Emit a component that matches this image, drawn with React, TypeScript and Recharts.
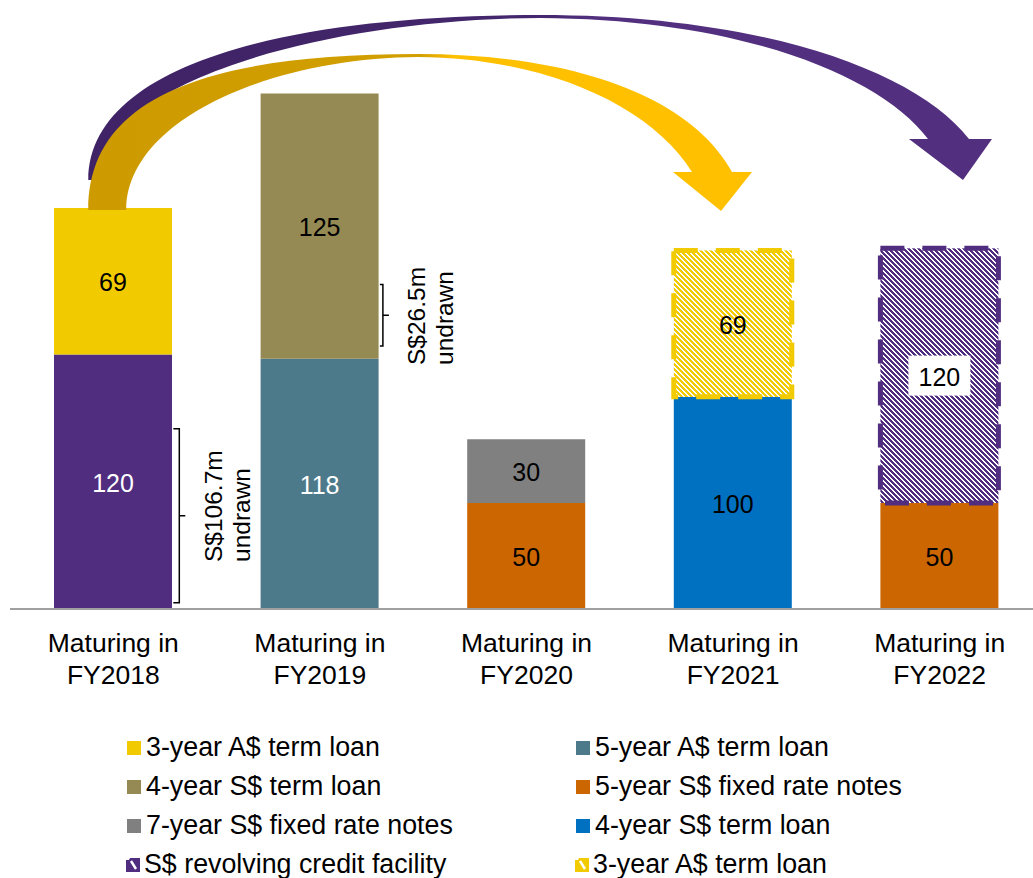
import React from "react";
import { BarChart, Bar, XAxis, YAxis, LabelList } from "recharts";

const categories = ["FY2018", "FY2019", "FY2020", "FY2021", "FY2022"];

// stacked from bottom to top
const revolver = [120, null, null, null, null];
const aud5 = [null, 118, null, null, null];
const fixed5 = [null, null, 50, null, 50];
const sgd4New = [null, null, null, 100, null];
const aud3 = [69, null, null, null, null];
const sgd4 = [null, 125, null, null, null];
const fixed7 = [null, null, 30, null, null];
const aud3Refi = [null, null, null, 69, null];
const revolverRefi = [null, null, null, null, 120];

const undrawnNotes = [
  { lines: ["S$106.7m", "undrawn"], cat: 0, from: 3, to: 85 },
  { lines: ["S$26.5m", "undrawn"], cat: 1, from: 124, to: 153 },
];

const C = {
  purple: "#512D7F",
  yellow: "#F2CA00",
  teal: "#4D7A8A",
  olive: "#958A54",
  orange: "#CC6600",
  gray: "#808080",
  blue: "#0070C0",
};

const FONT = "'Liberation Sans', Arial, sans-serif";

// layout
const CHART_W = 1043;
const CHART_H = 700;
const M_LEFT = 10;
const M_TOP = 15;
const AXIS_H = 91;
const PLOT_BOTTOM = CHART_H - AXIS_H;
const Y_MAX = 280;
const BAR_W = 118;
const BAND = (CHART_W - M_LEFT) / categories.length;

const xc = (i: number) => M_LEFT + BAND * (i + 0.5);
const yOf = (v: number) => PLOT_BOTTOM - (v / Y_MAX) * (PLOT_BOTTOM - M_TOP);

const data = categories.map((c, i) => ({
  year: c,
  revolver: revolver[i],
  aud5: aud5[i],
  fixed5: fixed5[i],
  sgd4New: sgd4New[i],
  aud3: aud3[i],
  sgd4: sgd4[i],
  fixed7: fixed7[i],
  aud3Refi: aud3Refi[i],
  revolverRefi: revolverRefi[i],
}));

const legendLeft = [
  { label: "3-year A$ term loan", color: C.yellow },
  { label: "4-year S$ term loan", color: C.olive },
  { label: "7-year S$ fixed rate notes", color: C.gray },
  { label: "S$ revolving credit facility", color: C.purple, hatch: true },
];
const legendRight = [
  { label: "5-year A$ term loan", color: C.teal },
  { label: "5-year S$ fixed rate notes", color: C.orange },
  { label: "4-year S$ term loan", color: C.blue },
  { label: "3-year A$ term loan", color: C.yellow, hatch: true },
];

function makeLabel(color: string, boxed = false) {
  return (props: any) => {
    const { x, y, width, height, value } = props;
    if (value == null || value === 0) return null;
    const cx = x + width / 2;
    const cy = y + height / 2;
    return (
      <g>
        {boxed && <rect x={cx - 31} y={cy - 20} width={62} height={40} fill="#fff" />}
        <text
          x={cx}
          y={cy + 1}
          textAnchor="middle"
          dominantBaseline="central"
          fill={color}
          fontSize={25}
          fontFamily={FONT}
        >
          {value}
        </text>
      </g>
    );
  };
}

function HatchBar(props: any) {
  const { x, y, width, height, stroke, fill } = props;
  if (!height || height <= 0) return null;
  return (
    <g>
      <rect x={x} y={y} width={width} height={height} fill={fill} />
      <rect
        x={x}
        y={y}
        width={width}
        height={height}
        fill="none"
        stroke={stroke}
        strokeWidth={5}
        strokeDasharray="24 18"
      />
    </g>
  );
}

function Tick(props: any) {
  const { x, y, payload } = props;
  return (
    <g>
      <text x={x} y={y + 43} textAnchor="middle" fontSize={26.5} fontFamily={FONT} fill="#000">
        Maturing in
      </text>
      <text x={x} y={y + 75} textAnchor="middle" fontSize={26.5} fontFamily={FONT} fill="#000">
        {payload.value}
      </text>
    </g>
  );
}

function Overlay() {
  const x0 = xc(0);
  return (
    <svg
      width={CHART_W}
      height={CHART_H}
      style={{ position: "absolute", left: 0, top: 0, pointerEvents: "none" }}
    >
      <defs>
        <linearGradient id="gPurple" x1="0" y1="0" x2="1" y2="0">
          <stop offset="0" stopColor="#3F2366" />
          <stop offset="0.5" stopColor="#44276C" />
          <stop offset="0.56" stopColor="#52307F" />
          <stop offset="1" stopColor="#52307F" />
        </linearGradient>
        <linearGradient id="gYellow" x1="0" y1="0" x2="1" y2="0">
          <stop offset="0" stopColor="#CD9B00" />
          <stop offset="0.5" stopColor="#D29F00" />
          <stop offset="0.55" stopColor="#FFC000" />
          <stop offset="1" stopColor="#FFC000" />
        </linearGradient>
      </defs>
      {/* purple arrow: revolver refinanced into FY2022 */}
      <path
        fill="url(#gPurple)"
        d={`M ${x0 - 25} 180 C ${x0 - 25} 70, ${x0 + 157} 15, 540 15
            C 760 15, 915 70, 969 139 L 992 139 L 963 180 L 909 139 L 928 139
            C 880 75, 740 19, 540 18 C 330 19, ${x0 - 12} 80, ${x0 - 17} 180 Z`}
      />
      {/* yellow arrow: A$ term loan refinanced into FY2021 */}
      <path
        fill="url(#gYellow)"
        d={`M ${x0 - 25} 210 C ${x0 - 25} 100, 200 54, 418 54
            C 570 54, 690 95, 732 172 L 752 172 L 721 211 L 673 172 L 692 172
            C 650 105, 545 58, 418 57 C 270 58, ${x0 + 13} 120, ${x0 + 13} 210 Z`}
      />
      {undrawnNotes.map((n, k) => {
        const bx = xc(n.cat) + BAR_W / 2;
        const top = yOf(n.to);
        const bot = yOf(n.from);
        const mid = (top + bot) / 2;
        const vx = bx + (k === 0 ? 7 : 4);
        const textBottom = k === 0 ? 562 : 365;
        const tx = k === 0 ? 222 : 425;
        return (
          <g key={k}>
            <path
              d={`M ${bx + 1} ${top} H ${vx} V ${bot} H ${bx + 1} M ${vx} ${mid} H ${vx + 6}`}
              fill="none"
              stroke="#000"
              strokeWidth={1.5}
            />
            {n.lines.map((t, j) => (
              <text
                key={j}
                transform={`translate(${tx + j * 28}, ${textBottom}) rotate(-90)`}
                fontSize={24.5}
                fontFamily={FONT}
                fill="#000"
              >
                {t}
              </text>
            ))}
          </g>
        );
      })}
    </svg>
  );
}

function LegendIcon({ color, hatch }: { color: string; hatch?: boolean }) {
  if (!hatch) {
    return <span style={{ width: 14, height: 14, background: color, display: "inline-block", marginRight: 5 }} />;
  }
  return (
    <svg width={16} height={16} style={{ marginRight: 3, marginLeft: -2 }}>
      <path d="M1 3 L4 3 L5 1 L15 1 L15 15 L1 15 Z" fill={color} />
      <path d="M6 4 L11 12" stroke="#fff" strokeWidth={2.5} />
    </svg>
  );
}

function LegendColumn({ items, left }: { items: any[]; left: number }) {
  return (
    <div style={{ position: "absolute", left, top: 728 }}>
      {items.map((it, i) => (
        <div
          key={i}
          style={{
            display: "flex",
            alignItems: "center",
            height: 39,
            fontSize: 26.8,
            fontFamily: FONT,
            color: "#000",
            whiteSpace: "nowrap",
          }}
        >
          <LegendIcon color={it.color} hatch={it.hatch} />
          {it.label}
        </div>
      ))}
    </div>
  );
}

export default function App() {
  return (
    <div
      style={{
        position: "absolute",
        left: 0,
        top: 0,
        width: 1033,
        height: 878,
        overflow: "hidden",
        background: "#fff",
      }}
    >
      <div style={{ position: "absolute", left: 0, top: 0, width: CHART_W, height: CHART_H }}>
        <BarChart
          width={CHART_W}
          height={CHART_H}
          data={data}
          margin={{ top: M_TOP, right: 0, left: M_LEFT, bottom: 0 }}
          barSize={BAR_W}
        >
          <defs>
            <pattern id="hatchYellow" width="5" height="5" patternUnits="userSpaceOnUse">
              <rect width="5" height="5" fill="#fff" />
              <path
                d="M0 0 L5 5 M-2.5 2.5 L2.5 7.5 M2.5 -2.5 L7.5 2.5"
                stroke={C.yellow}
                strokeWidth={2}
                shapeRendering="crispEdges"
              />
            </pattern>
            <pattern id="hatchPurple" width="5" height="5" patternUnits="userSpaceOnUse">
              <rect width="5" height="5" fill="#fff" />
              <path
                d="M0 0 L5 5 M-2.5 2.5 L2.5 7.5 M2.5 -2.5 L7.5 2.5"
                stroke={C.purple}
                strokeWidth={2}
                shapeRendering="crispEdges"
              />
            </pattern>
          </defs>
          <XAxis
            dataKey="year"
            height={AXIS_H}
            tickLine={false}
            tickSize={0}
            tickMargin={0}
            axisLine={{ stroke: "#A0A0A0", strokeWidth: 2 }}
            tick={<Tick />}
            interval={0}
          />
          <YAxis hide domain={[0, Y_MAX]} width={0} />
          <Bar dataKey="revolver" stackId="a" fill={C.purple} isAnimationActive={false}>
            <LabelList dataKey="revolver" content={makeLabel("#fff")} />
          </Bar>
          <Bar dataKey="aud5" stackId="a" fill={C.teal} isAnimationActive={false}>
            <LabelList dataKey="aud5" content={makeLabel("#fff")} />
          </Bar>
          <Bar dataKey="fixed5" stackId="a" fill={C.orange} isAnimationActive={false}>
            <LabelList dataKey="fixed5" content={makeLabel("#000")} />
          </Bar>
          <Bar dataKey="sgd4New" stackId="a" fill={C.blue} isAnimationActive={false}>
            <LabelList dataKey="sgd4New" content={makeLabel("#000")} />
          </Bar>
          <Bar dataKey="aud3" stackId="a" fill={C.yellow} isAnimationActive={false}>
            <LabelList dataKey="aud3" content={makeLabel("#000")} />
          </Bar>
          <Bar dataKey="sgd4" stackId="a" fill={C.olive} isAnimationActive={false}>
            <LabelList dataKey="sgd4" content={makeLabel("#000")} />
          </Bar>
          <Bar dataKey="fixed7" stackId="a" fill={C.gray} isAnimationActive={false}>
            <LabelList dataKey="fixed7" content={makeLabel("#000")} />
          </Bar>
          <Bar
            dataKey="aud3Refi"
            stackId="a"
            fill="url(#hatchYellow)"
            stroke={C.yellow}
            shape={<HatchBar />}
            isAnimationActive={false}
          >
            <LabelList dataKey="aud3Refi" content={makeLabel("#000")} />
          </Bar>
          <Bar
            dataKey="revolverRefi"
            stackId="a"
            fill="url(#hatchPurple)"
            stroke={C.purple}
            shape={<HatchBar />}
            isAnimationActive={false}
          >
            <LabelList dataKey="revolverRefi" content={makeLabel("#000", true)} />
          </Bar>
        </BarChart>
        <Overlay />
      </div>
      <LegendColumn items={legendLeft} left={127} />
      <LegendColumn items={legendRight} left={576} />
    </div>
  );
}
